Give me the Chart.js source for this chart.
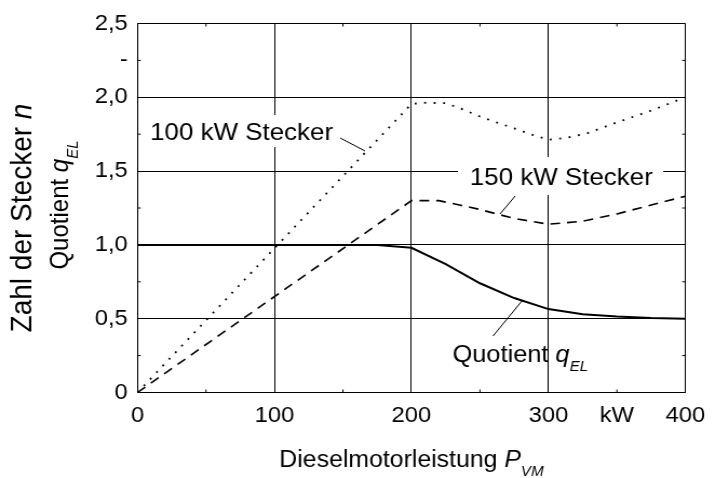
<!DOCTYPE html>
<html>
<head>
<meta charset="utf-8">
<script src="https://cdn.jsdelivr.net/npm/chart.js@4.4.1/dist/chart.umd.min.js"></script>
<style>
  html, body { margin: 0; padding: 0; background: #fff; }
  #wrap { width: 663px; height: 478px; transform: scaleX(1.08); transform-origin: 0 0; }
</style>
</head>
<body>
<div id="wrap"><canvas id="chart" width="663" height="478"></canvas></div>
<script>
const FONT = '"Liberation Sans", Arial, sans-serif';

// Dieselmotorleistung P_VM in kW, Zahl der Stecker n bzw. Quotient q_EL
const plug100X = [0, 200, 210, 225, 237, 250, 262, 275, 287, 300, 313, 328, 350, 375, 400];
const plug100Y = [0, 1.955, 1.963, 1.96, 1.92, 1.87, 1.83, 1.79, 1.75, 1.712, 1.725, 1.755, 1.83, 1.91, 2.0];

const plug150X = [0, 200, 220, 235, 250, 262, 275, 287, 300, 325, 350, 375, 400];
const plug150Y = [0, 1.30, 1.30, 1.27, 1.24, 1.21, 1.18, 1.16, 1.14, 1.16, 1.21, 1.27, 1.33];

const quotX = [0, 175, 200, 225, 250, 275, 300, 325, 350, 375, 400];
const quotY = [1.0, 1.0, 0.98, 0.87, 0.74, 0.64, 0.565, 0.53, 0.515, 0.505, 0.5];

const xTickValues = [0, 100, 200, 300, 350, 400];
const xTickText = ['0', '100', '200', '300', 'kW', '400'];
const yTickValues = [0, 0.5, 1, 1.5, 2, 2.25, 2.5];
const yTickText = ['0', '0,5', '1,0', '1,5', '2,0', '-', '2,5'];

function toPoints(xs, ys) {
  return xs.map((v, i) => ({ x: v, y: ys[i] }));
}

function lookup(values, texts, v) {
  const i = values.findIndex(t => Math.abs(t - v) < 1e-6);
  return i >= 0 ? texts[i] : '';
}

function isMajor(v, step) {
  return Math.abs(v / step - Math.round(v / step)) < 1e-6;
}

// text runs with italic letters and subscripts
function richWidth(ctx, parts) {
  let w = 0;
  parts.forEach(p => {
    ctx.font = (p.italic ? 'italic ' : '') + p.size + 'px ' + FONT;
    w += ctx.measureText(p.t).width;
  });
  return w;
}

function drawRich(ctx, x, y, parts) {
  let cx = x;
  parts.forEach(p => {
    ctx.font = (p.italic ? 'italic ' : '') + p.size + 'px ' + FONT;
    ctx.fillText(p.t, cx, y + (p.dy || 0));
    cx += ctx.measureText(p.t).width;
  });
}

function line(ctx, x1, y1, x2, y2) {
  ctx.beginPath();
  ctx.moveTo(x1, y1);
  ctx.lineTo(x2, y2);
  ctx.stroke();
}

const decor = {
  id: 'decor',
  afterDatasetsDraw(chart) {
    const { ctx, chartArea: a, scales: { x, y } } = chart;
    ctx.save();
    ctx.strokeStyle = '#000';
    ctx.fillStyle = '#000';
    ctx.lineWidth = 1;

    // short inward ticks between the grid lines
    ctx.beginPath();
    x.ticks.forEach(t => {
      if (isMajor(t.value, 100)) return;
      const px = x.getPixelForValue(t.value);
      ctx.moveTo(px, a.bottom); ctx.lineTo(px, a.bottom - 3);
      ctx.moveTo(px, a.top); ctx.lineTo(px, a.top + 3);
    });
    y.ticks.forEach(t => {
      if (isMajor(t.value, 0.5)) return;
      const py = y.getPixelForValue(t.value);
      ctx.moveTo(a.left, py); ctx.lineTo(a.left + 3, py);
      ctx.moveTo(a.right, py); ctx.lineTo(a.right - 3, py);
    });
    ctx.stroke();

    ctx.textBaseline = 'alphabetic';
    ctx.textAlign = 'left';

    // 100 kW Stecker
    ctx.fillStyle = '#fff';
    ctx.fillRect(134, 115, 180, 32);
    ctx.fillStyle = '#000';
    drawRich(ctx, 139, 140, [{ t: '100 kW Stecker', size: 24 }]);
    line(ctx, 315, 138, 338, 151);

    // 150 kW Stecker
    ctx.fillStyle = '#fff';
    ctx.fillRect(424, 157, 190, 38);
    ctx.fillStyle = '#000';
    drawRich(ctx, 435, 185, [{ t: '150 kW Stecker', size: 24 }]);
    line(ctx, 477, 196, 463, 214);

    // Quotient q_EL
    drawRich(ctx, 419, 362, [
      { t: 'Quotient ', size: 23.5 },
      { t: 'q', size: 23.5, italic: true },
      { t: 'EL', size: 14, italic: true, dy: 9 }
    ]);
    line(ctx, 484, 300, 456.5, 336);

    // axis titles
    const xt = [
      { t: 'Dieselmotorleistung ', size: 23 },
      { t: 'P', size: 23, italic: true },
      { t: 'VM', size: 14, italic: true, dy: 9 }
    ];
    const cxm = (a.left + a.right) / 2;
    drawRich(ctx, cxm - richWidth(ctx, xt) / 2, 467, xt);

    const yt1 = [
      { t: 'Zahl der Stecker ', size: 28 },
      { t: 'n', size: 28, italic: true }
    ];
    const yt2 = [
      { t: 'Quotient ', size: 24 },
      { t: 'q', size: 24, italic: true },
      { t: 'EL', size: 15, italic: true, dy: 9 }
    ];
    ctx.save();
    ctx.translate(29, 218);
    ctx.rotate(-Math.PI / 2);
    drawRich(ctx, -richWidth(ctx, yt1) / 2, 0, yt1);
    ctx.restore();
    ctx.save();
    ctx.translate(63, 205);
    ctx.rotate(-Math.PI / 2);
    drawRich(ctx, -richWidth(ctx, yt2) / 2, 0, yt2);
    ctx.restore();

    ctx.restore();
  }
};

new Chart(document.getElementById('chart'), {
  type: 'line',
  data: {
    datasets: [
      {
        data: toPoints(plug100X, plug100Y),
        borderColor: '#000',
        borderWidth: 1.8,
        borderDash: [1.8, 7],
        pointRadius: 0,
        fill: false
      },
      {
        data: toPoints(plug150X, plug150Y),
        borderColor: '#000',
        borderWidth: 1.6,
        borderDash: [9, 6.5],
        pointRadius: 0,
        fill: false
      },
      {
        data: toPoints(quotX, quotY),
        borderColor: '#000',
        borderWidth: 2,
        pointRadius: 0,
        fill: false
      }
    ]
  },
  options: {
    responsive: false,
    animation: false,
    events: [],
    layout: { padding: { top: 23.5, right: 20.4, left: 0, bottom: 0 } },
    plugins: {
      legend: { display: false },
      tooltip: { enabled: false }
    },
    scales: {
      x: {
        type: 'linear',
        min: 0,
        max: 400,
        afterFit: s => { s.height = 85.5; },
        border: { color: '#000', width: 1 },
        grid: {
          drawTicks: false,
          lineWidth: 1,
          color: c => isMajor(c.tick.value, 100) ? '#000' : 'rgba(0,0,0,0)'
        },
        ticks: {
          stepSize: 50,
          autoSkip: false,
          maxRotation: 0,
          padding: 10,
          color: '#000',
          font: { family: FONT, size: 22 },
          callback: v => lookup(xTickValues, xTickText, v)
        }
      },
      y: {
        min: 0,
        max: 2.5,
        afterFit: s => { s.width = 127.3; },
        border: { color: '#000', width: 1 },
        grid: {
          drawTicks: false,
          lineWidth: 1,
          color: c => isMajor(c.tick.value, 0.5) ? '#000' : 'rgba(0,0,0,0)'
        },
        ticks: {
          stepSize: 0.25,
          autoSkip: false,
          padding: 9,
          color: '#000',
          font: { family: FONT, size: 22 },
          callback: v => lookup(yTickValues, yTickText, v)
        }
      }
    }
  },
  plugins: [decor]
});
</script>
</body>
</html>
